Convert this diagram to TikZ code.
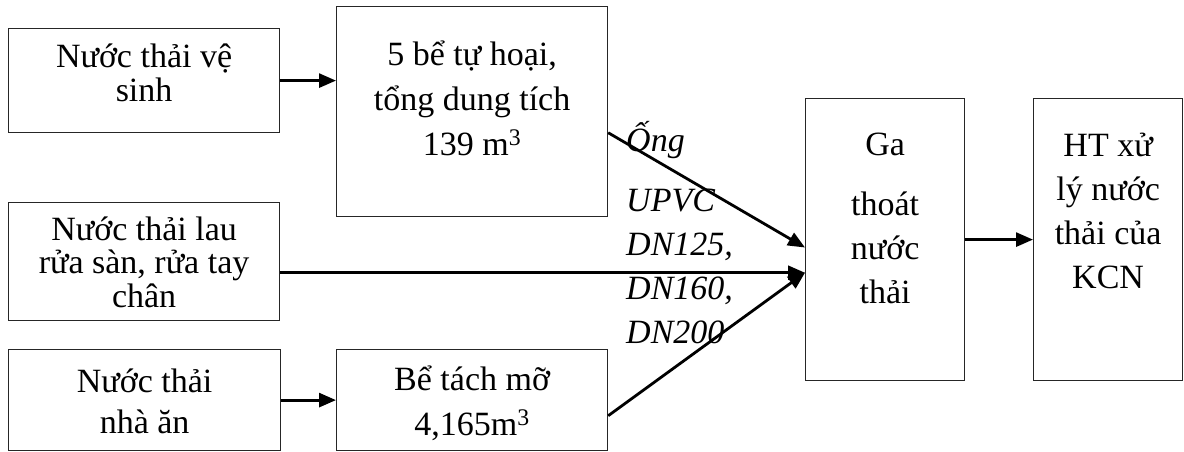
\documentclass[tikz,border=0pt]{standalone}
\usepackage{fontspec}
\setmainfont{Liberation Serif}
\usetikzlibrary{positioning,arrows.meta,calc}

\tikzset{
  box/.style={draw=black!85, line width=1.2pt, anchor=north west, inner sep=0pt},
  boxtext/.style={align=center, inner sep=0pt},
  flow/.style={line width=2.8pt, -{Triangle[length=17pt,width=14pt]}},
}

\begin{document}
\begin{tikzpicture}[x=1pt, y=-1pt]
  \def\fs#1{\fontsize{34}{#1}\selectfont\lineskiplimit=-100pt}
  \useasboundingbox (0,0) rectangle (1184,452);
  % Sources
  \node [box, minimum width=271pt, minimum height=104pt] (vesinh) at (8,28) {};
  \node [box, minimum width=271pt, minimum height=118pt] (lau) at (8,202) {};
  \node [box, minimum width=272pt, minimum height=101pt] (nhaan) at (8,349) {};
  % Pre-treatment
  \node [box, minimum width=271pt, minimum height=210pt] (tuhoai) at (336,6) {};
  \node [box, minimum width=271pt, minimum height=101pt] (tachmo) at (336,349) {};
  % Collection pit and KCN plant
  \node [box, minimum width=159pt, minimum height=282pt] (ga) at (805,98) {};
  \node [box, minimum width=149pt, minimum height=282pt] (ht) at (1033,98) {};

  % Box texts (anchored on the last line)
  \node [boxtext, font=\fs{35}, below = 74pt of vesinh.north, anchor=base] (vesinh text) {Nước thải vệ\\sinh};
  \node [boxtext, font=\fs{33.5}, below = 105pt of lau.north, anchor=base] (lau text) {Nước thải lau\\rửa sàn, rửa tay\\chân};
  \node [boxtext, font=\fs{41}, below = 84pt of nhaan.north, anchor=base] (nhaan text) {Nước thải\\nhà ăn};
  \node [boxtext, font=\fs{45}, below = 149pt of tuhoai.north, anchor=base] (tuhoai text) {5 bể tự hoại,\\tổng dung tích\\139 m\textsuperscript{3}};
  \node [boxtext, font=\fs{45}, below = 86pt of tachmo.north, anchor=base] (tachmo text) {Bể tách mỡ\\4,165m\textsuperscript{3}};
  \node [boxtext, font=\fs{44}, below = 205pt of ga.north, anchor=base] (ga text) {Ga\\[16pt]thoát\\nước\\thải};
  \node [boxtext, font=\fs{44}, below = 190pt of ht.north, anchor=base] (ht text) {HT xử\\lý nước\\thải của\\KCN};
  % Pipe note
  \node [align=left, inner sep=0pt, font=\fs{44}\itshape, anchor=base west] (pipe) at (626,343) {Ống\\[16pt]UPVC\\DN125,\\DN160,\\DN200};

  % Inlets on the pit
  \coordinate (inlet top) at ($(ga.north west)!0.528!(ga.south west)$);
  \coordinate (inlet) at ($(ga.north west)!0.617!(ga.south west)$);
  % Flows
  \draw [flow] (vesinh.east) -- (vesinh.east -| tuhoai.west);
  \draw [flow] (nhaan.east) -- (nhaan.east -| tachmo.west);
  \draw [flow] ($(tuhoai.north east)!0.6!(tuhoai.south east)$) -- (inlet top);
  \draw [flow] (lau.east |- inlet) -- (inlet);
  \draw [flow] ($(tachmo.north east)!0.653!(tachmo.south east)$) -- (inlet);
  \draw [flow] (ga.east) -- (ga.east -| ht.west);
\end{tikzpicture}
\end{document}
